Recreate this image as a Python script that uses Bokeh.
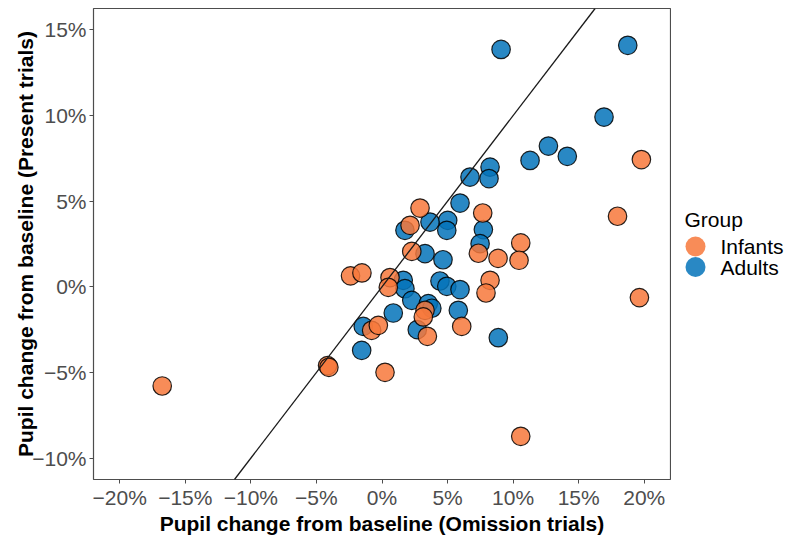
from bokeh.plotting import figure
from bokeh.layouts import row
from bokeh.models import Slope, FixedTicker, Range1d, ColumnDataSource
from bokeh.core.properties import value
from bokeh.embed import file_html
from bokeh.resources import INLINE

# ---- data (percent change from baseline) ----
adults_x = [9.08, 18.74, 16.93, 12.69, 11.29, 14.13, 8.24, 8.16, 6.71, 5.95,
            5.01, 3.66, 1.75, 4.94, 7.73, 7.48, 3.28, 4.65, 1.62, 1.75,
            4.42, 4.94, 5.95, 2.27, 3.53, 3.80, 0.86, 5.82, -1.43, 2.69,
            8.87, -1.55]
adults_y = [13.86, 14.10, 9.91, 8.22, 7.38, 7.62, 6.99, 6.32, 6.41, 4.89,
            3.88, 3.78, 3.30, 3.30, 3.34, 2.52, 1.94, 1.58, 0.38, -0.11,
            0.34, 0.03, -0.16, -0.79, -0.98, -1.25, -1.53, -1.37, -2.31, -2.50,
            -2.97, -3.71]

infants_x = [-16.76, -4.15, -4.05, 0.23, 10.58, 17.96, 19.78, 19.63, 10.58, 10.45,
             8.85, 7.68, 7.35, 8.24, 7.93, 2.90, 2.14, 2.27, -2.40, -1.53,
             0.61, 0.48, 3.28, 3.15, 6.08, -0.79, -0.28, 3.46]
infants_y = [-5.79, -4.60, -4.70, -4.99, -8.73, 4.12, 7.43, -0.63, 2.56, 1.55,
             1.66, 4.31, 1.96, 0.38, -0.36, 4.60, 3.59, 2.07, 0.64, 0.81,
             0.54, -0.03, -1.37, -1.76, -2.31, -2.54, -2.25, -2.89]

x_ticks = [-20, -15, -10, -5, 0, 5, 10, 15, 20]
x_tick_labels = ["\u221220%", "\u221215%", "\u221210%", "\u22125%", "0%", "5%", "10%", "15%", "20%"]
y_ticks = [-10, -5, 0, 5, 10, 15]
y_tick_labels = ["\u221210%", "\u22125%", "0%", "5%", "10%", "15%"]

groups = ["Infants", "Adults"]
colors = ["#F7783B", "#0473BA"]

x_title = "Pupil change from baseline (Omission trials)"
y_title = "Pupil change from baseline (Present trials)"
legend_title = "Group"

FONT = "Liberation Sans"

# ---- main panel ----
p = figure(frame_width=577, frame_height=471,
           x_range=Range1d(-22, 22), y_range=Range1d(-11.25, 16.25),
           output_backend="svg", toolbar_location=None,
           min_border_left=93, min_border_right=1,
           min_border_top=8, min_border_bottom=61)

p.background_fill_color = "white"
p.border_fill_color = "white"
p.outline_line_color = "#4D4D4D"
p.outline_line_width = 1.2
p.xgrid.visible = False
p.ygrid.visible = False

common = dict(size=18.5, fill_alpha=0.85, line_color="black",
              line_alpha=0.85, line_width=1.2)
r_adults = p.scatter(adults_x, adults_y, fill_color=colors[1], **common)
r_infants = p.scatter(infants_x, infants_y, fill_color=colors[0], **common)

# identity line
p.add_layout(Slope(gradient=1, y_intercept=0, line_color="#1a1a1a", line_width=1.3))

for ax, ticks, labels in ((p.xaxis, x_ticks, x_tick_labels), (p.yaxis, y_ticks, y_tick_labels)):
    ax.ticker = FixedTicker(ticks=ticks)
    ax.major_label_overrides = {t: l for t, l in zip(ticks, labels)}
    ax.axis_line_color = None
    ax.major_tick_in = 0
    ax.major_tick_out = 4
    ax.major_tick_line_color = "#4D4D4D"
    ax.minor_tick_line_color = None
    ax.major_label_text_font = FONT
    ax.major_label_text_font_size = "21px"
    ax.major_label_text_color = "#4D4D4D"
    ax.axis_label_text_font = FONT
    ax.axis_label_text_font_size = "21px"
    ax.axis_label_text_font_style = "bold"
    ax.axis_label_text_color = "black"

p.xaxis.axis_label = x_title
p.yaxis.axis_label = y_title
p.xaxis.major_label_standoff = 2
p.xaxis.axis_label_standoff = 0
p.yaxis.major_label_standoff = 3
p.yaxis.axis_label_standoff = -8

# ---- legend panel (pixel-unit frame, aligned with the main frame) ----
LEG_W, LEG_H = 117, 471
q = figure(width=LEG_W, height=540, x_range=Range1d(0, LEG_W), y_range=Range1d(0, LEG_H),
           output_backend="svg", toolbar_location=None,
           x_axis_type=None, y_axis_type=None, min_border=0)
q.outline_line_color = None
q.xgrid.visible = False
q.ygrid.visible = False
q.background_fill_color = "white"
q.border_fill_color = "white"

key_x, label_x, first_row, row_step = 24, 49, 233, 20.5
row_y = [first_row - i * row_step for i in range(len(groups))]
leg_src = ColumnDataSource(dict(x=[key_x] * len(groups), lx=[label_x] * len(groups),
                                y=row_y, color=colors, label=groups))
q.scatter("x", "y", source=leg_src, size=20, fill_color="color",
          fill_alpha=0.85, line_color=None)
q.text("lx", "y", text="label", source=leg_src, text_font=value(FONT),
       text_font_size="21px", text_color="black", text_baseline="middle",
       text_align="left")
q.text([13], [260], text=[legend_title], text_font=value(FONT),
       text_font_size="21px", text_color="black", text_baseline="alphabetic",
       text_align="left")

layout = row(p, q, spacing=0)
open("out.html", "w").write(file_html(layout, INLINE))
